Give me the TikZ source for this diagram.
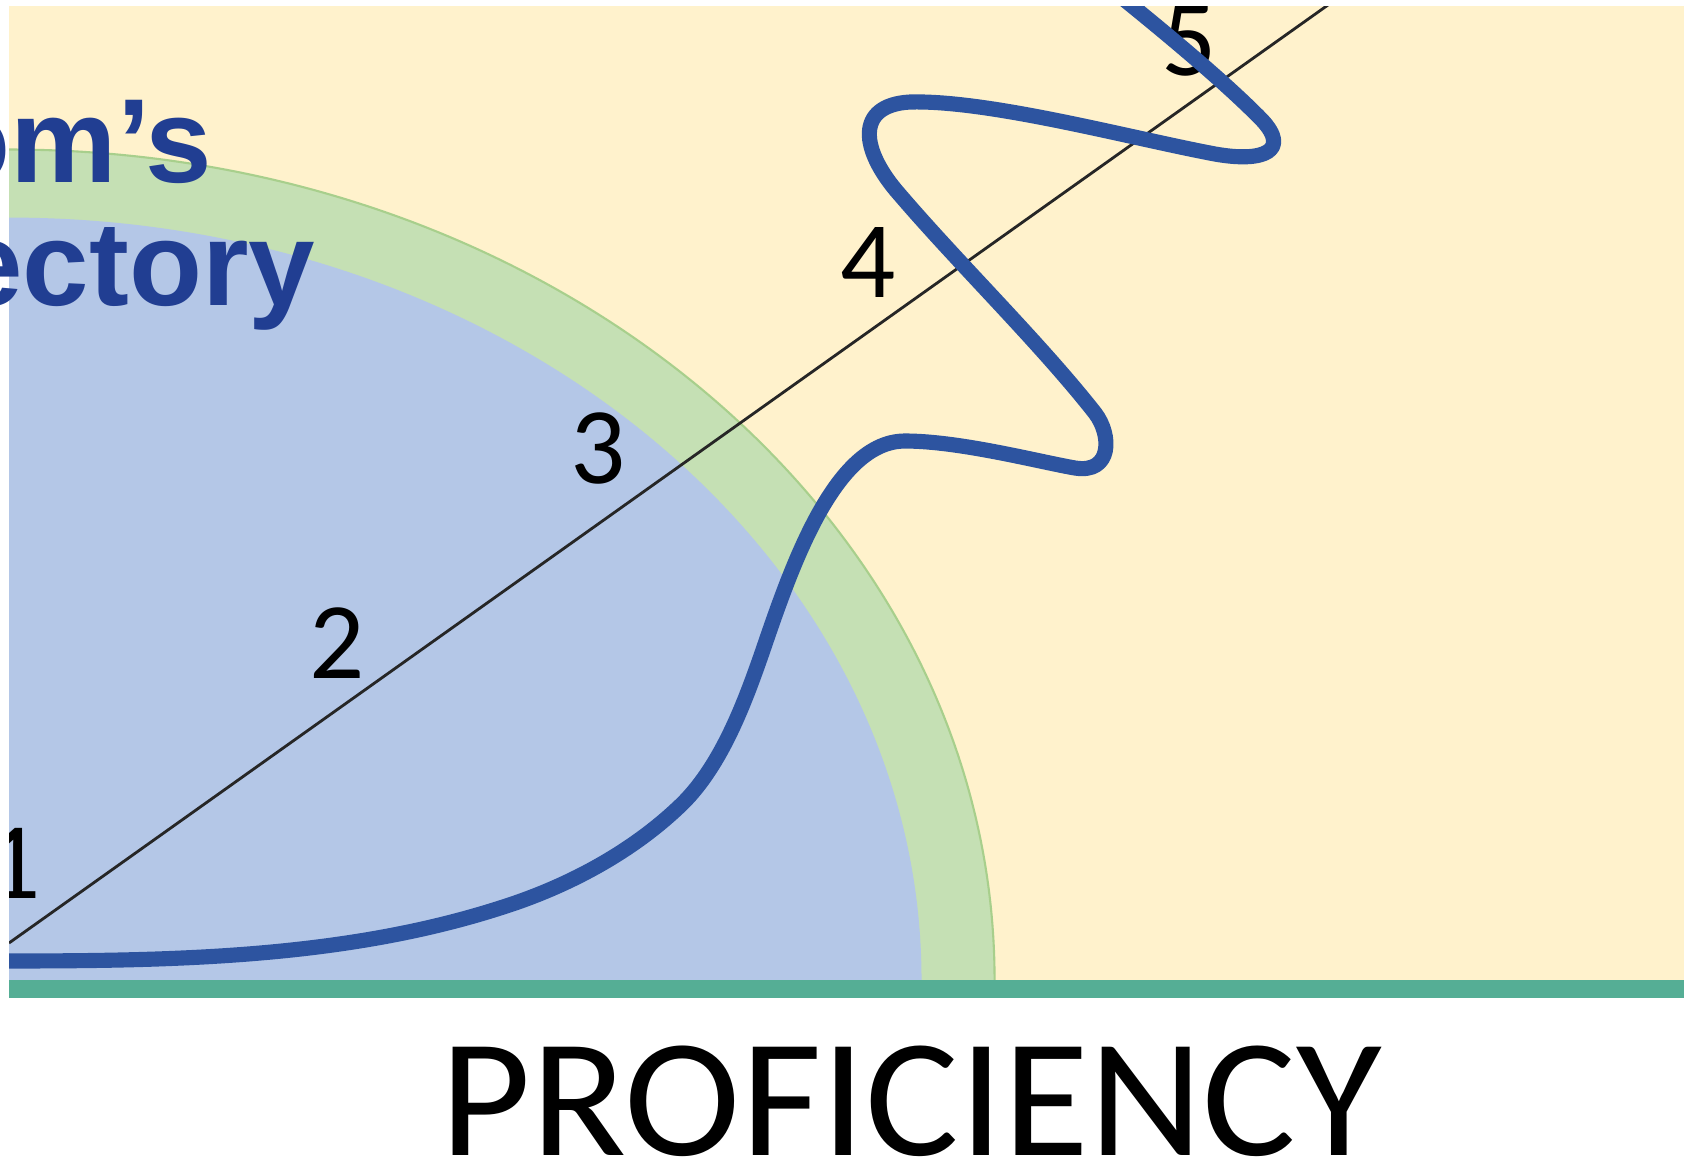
\documentclass[tikz,border=0pt]{standalone}
\usepackage{fontspec}
\setmainfont{Carlito}
\newfontfamily\headfont{Liberation Sans}
\definecolor{paleyellow}{HTML}{FFF2CC}
\definecolor{ringgreen}{HTML}{C5E0B4}
\definecolor{ringedge}{HTML}{A8CF8C}
\definecolor{zoneblue}{HTML}{B4C7E7}
\definecolor{axisgreen}{HTML}{55AE95}
\definecolor{trajblue}{HTML}{2D54A0}
\definecolor{headblue}{HTML}{213E92}

\begin{document}
\begin{tikzpicture}[x=0.01cm, y=-0.01cm,
    num/.style={font=\fontsize{31}{31}\selectfont, inner sep=0pt, anchor=base},
    traj/.style={line width=4.3pt, draw=trajblue, line cap=round, line join=round},
    headline/.style={font=\headfont\bfseries\fontsize{34}{36}\selectfont,
                     text=headblue, inner sep=0pt, anchor=base east},
]
\useasboundingbox (0,0) rectangle (1684,1166);
\clip (0,0) rectangle (1684,1166);
\fill[white] (0,0) rectangle (1684,1166);

% Panel: zones, levels and trajectory
\begin{scope}
\clip (9,6) rectangle (1684,980);
\fill[paleyellow] (9,6) rectangle (1684,980);
\fill[ringgreen, draw=ringedge, line width=0.6pt] (9,980) ellipse [x radius=9.85cm, y radius=8.3cm];
\fill[zoneblue] (9,980) ellipse [x radius=9.12cm, y radius=7.62cm];

% Level axis with numbers
\draw[line width=0.8pt, black!85] (9,943) -- (1335,0);
\foreach \n/\x/\y in {1/13/898, 2/337/678, 3/598/483, 4/868/297, 5/1189/75}{
  \node[num] (lvl\n) at (\x,\y) {\n};
}

% Trajectory
\draw[traj] (-10,961) .. controls (160,961) and (338,960) .. (500,908)
  .. controls (567,887) and (633,852) .. (683,803)
  .. controls (722,764) and (745,702) .. (763,650)
  .. controls (792,565) and (835,441) .. (905,441)
  .. controls (960,441) and (1040,462) .. (1075,468)
  .. controls (1112,474) and (1112,435) .. (1095,413)
  .. controls (1040,343) and (960,265) .. (900,195)
  .. controls (860,150) and (855,105) .. (910,102)
  .. controls (990,100) and (1130,138) .. (1215,154)
  .. controls (1265,163) and (1290,150) .. (1262,120)
  .. controls (1225,82) and (1160,28) .. (1100,-20);
\end{scope}

\fill[axisgreen] (9,980) rectangle (1684,998);

% Title, cut at the left edge
\node[headline] (title1) at (213,182) {om’s};
\node[headline] (title2) at (316,305) {ectory};

\node[font=\fontsize{48}{48}\selectfont, inner sep=0pt, anchor=base, xscale=1.04] (prof) at (911,1155) {PROFICIENCY};
\end{tikzpicture}
\end{document}
